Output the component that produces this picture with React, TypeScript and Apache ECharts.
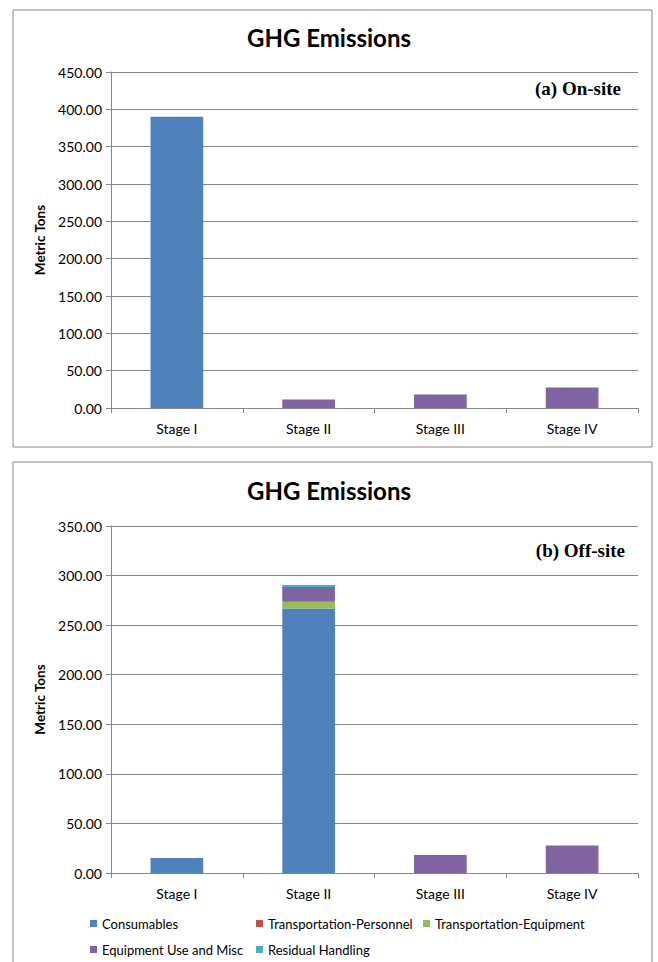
import React, { useEffect, useRef } from "react";
import * as echarts from "echarts";

const categories = ["Stage I", "Stage II", "Stage III", "Stage IV"];
const seriesNames = [
  "Consumables",
  "Transportation-Personnel",
  "Transportation-Equipment",
  "Equipment Use and Misc",
  "Residual Handling",
];
const seriesColors = ["#4F81BD", "#C0504D", "#9BBB59", "#8064A2", "#4BACC6"];

// (a) On-site
const onConsumables = [390, 0, 0, 0];
const onTransPersonnel = [0, 0, 0, 0];
const onTransEquipment = [0, 0, 0, 0];
const onEquipUse = [0, 11.5, 18, 27.5];
const onResidual = [0, 0, 0, 0];

// (b) Off-site
const offConsumables = [15.2, 266.7, 0, 0];
const offTransPersonnel = [0, 0, 0, 0];
const offTransEquipment = [0, 7.0, 0, 0];
const offEquipUse = [0, 14.8, 18.2, 27.7];
const offResidual = [0, 2.0, 0, 0];

const titleText = "GHG Emissions";
const yAxisName = "Metric Tons";
const panelLabels = ["(a) On-site", "(b) Off-site"];

const SANS = "Lato";
const GRAY = "#868686";

export default function App() {
  const ref = useRef<HTMLDivElement>(null);
  useEffect(() => {
    if (!ref.current) return;
    const chart = echarts.init(ref.current, undefined, { renderer: "svg" });
    const onData = [onConsumables, onTransPersonnel, onTransEquipment, onEquipUse, onResidual];
    const offData = [offConsumables, offTransPersonnel, offTransEquipment, offEquipUse, offResidual];

    const mkX = (gridIndex: number) => ({
      type: "category",
      gridIndex,
      data: categories,
      axisLine: { lineStyle: { color: GRAY, width: 1 } },
      axisTick: { show: true, length: 5, lineStyle: { color: GRAY } },
      axisLabel: { color: "#000", fontFamily: SANS, fontSize: 14, margin: 13 },
    });
    const mkY = (gridIndex: number, max: number) => ({
      type: "value",
      gridIndex,
      min: 0,
      max,
      interval: 50,
      name: yAxisName,
      nameLocation: "middle",
      nameGap: 64,
      nameTextStyle: { color: "#000", fontFamily: SANS, fontSize: 13.5, fontWeight: "bold" },
      axisLine: { show: true, lineStyle: { color: GRAY, width: 1 } },
      axisTick: { show: true, length: 5, lineStyle: { color: GRAY } },
      axisLabel: {
        color: "#000",
        fontFamily: SANS,
        fontSize: 14,
        margin: 9,
        formatter: (v: number) => v.toFixed(2),
      },
      splitLine: { show: true, lineStyle: { color: GRAY, width: 1 } },
    });

    const series: any[] = [];
    seriesNames.forEach((name, i) => {
      series.push({
        type: "bar",
        name,
        stack: "on",
        xAxisIndex: 0,
        yAxisIndex: 0,
        data: onData[i],
        barWidth: "40%",
        itemStyle: { color: seriesColors[i] },
      });
    });
    seriesNames.forEach((name, i) => {
      series.push({
        type: "bar",
        name,
        stack: "off",
        xAxisIndex: 1,
        yAxisIndex: 1,
        data: offData[i],
        barWidth: "40%",
        itemStyle: { color: seriesColors[i] },
      });
    });

    const legendPos = [
      { left: 90, top: 917 },
      { left: 256, top: 917 },
      { left: 423, top: 917 },
      { left: 90, top: 943 },
      { left: 256, top: 943 },
    ];
    const legends = seriesNames.map((name, i) => ({
      data: [name],
      left: legendPos[i].left,
      top: legendPos[i].top,
      padding: 0,
      icon: "rect",
      itemWidth: 7,
      itemHeight: 7,
      textStyle: { color: "#000", fontFamily: SANS, fontSize: 13 },
    }));

    chart.setOption({
      animation: false,
      backgroundColor: "#fff",
      title: [
        {
          text: titleText,
          left: "center",
          top: 20,
          textStyle: { fontFamily: SANS, fontSize: 24, fontWeight: "bold", color: "#000" },
        },
        {
          text: titleText,
          left: "center",
          top: 473,
          textStyle: { fontFamily: SANS, fontSize: 24, fontWeight: "bold", color: "#000" },
        },
      ],
      legend: legends,
      grid: [
        { left: 111, top: 72, width: 527, height: 336, containLabel: false },
        { left: 111, top: 526, width: 527, height: 347, containLabel: false },
      ],
      xAxis: [mkX(0), mkX(1)],
      yAxis: [mkY(0, 450), mkY(1, 350)],
      series,
      graphic: [
        {
          type: "rect",
          shape: { x: 13, y: 10, width: 639, height: 437 },
          style: { fill: "none", stroke: GRAY, lineWidth: 1 },
          silent: true,
        },
        {
          type: "rect",
          shape: { x: 13, y: 462, width: 639, height: 520 },
          style: { fill: "none", stroke: GRAY, lineWidth: 1 },
          silent: true,
        },
        {
          type: "text",
          x: 621,
          y: 88,
          style: {
            text: panelLabels[0],
            font: 'bold 19px "Liberation Serif"',
            fill: "#000",
            textAlign: "right",
            textVerticalAlign: "middle",
          },
          z: 100,
        },
        {
          type: "text",
          x: 625,
          y: 550,
          style: {
            text: panelLabels[1],
            font: 'bold 19px "Liberation Serif"',
            fill: "#000",
            textAlign: "right",
            textVerticalAlign: "middle",
          },
          z: 100,
        },
      ],
    });
    return () => chart.dispose();
  }, []);
  return (
    <div
      ref={ref}
      style={{ position: "absolute", left: 0, top: 0, width: 658, height: 962 }}
    />
  );
}
